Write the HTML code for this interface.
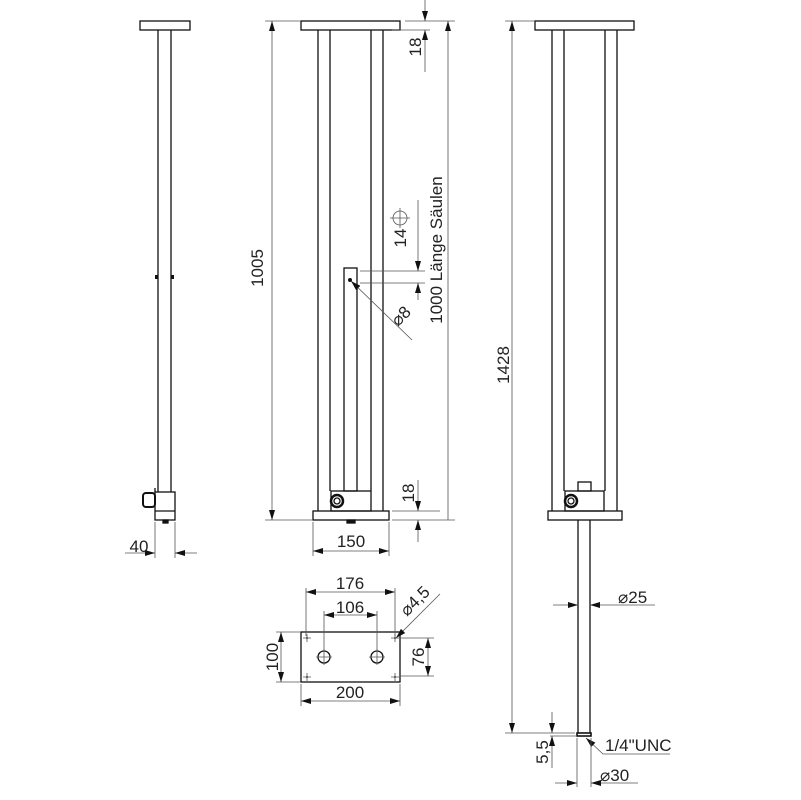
<!DOCTYPE html>
<html><head><meta charset="utf-8"><style>body{margin:0;background:#fff}svg{display:block}text{font-family:"Liberation Sans",sans-serif;font-size:17px;fill:#222}</style></head><body>
<svg width="801" height="800" viewBox="0 0 801 800" xmlns="http://www.w3.org/2000/svg">
<defs>
<marker id="a" viewBox="0 0 10 6" refX="10" refY="3" markerWidth="10" markerHeight="6" orient="auto-start-reverse" markerUnits="userSpaceOnUse"><path d="M0,0L10,3L0,6z" fill="#111"/></marker>
</defs>
<g fill="none" stroke="#111" stroke-width="1.3">
<rect x="140" y="21" width="50" height="9"/>
<line x1="158" y1="30" x2="158" y2="492"/><line x1="171" y1="30" x2="171" y2="492"/>
<rect x="155" y="492" width="20" height="28"/><line x1="155" y1="511" x2="175" y2="511"/>
<rect x="143" y="493" width="12" height="14" rx="3" stroke-width="2"/>
<line x1="155" y1="488" x2="155" y2="492"/>
<rect x="163" y="520" width="5" height="3" fill="#111"/>
<rect x="301" y="21" width="99" height="9"/>
<line x1="318" y1="30" x2="318" y2="511"/><line x1="330" y1="30" x2="330" y2="491"/>
<line x1="371" y1="30" x2="371" y2="491"/><line x1="383" y1="30" x2="383" y2="511"/>
<rect x="344" y="268" width="13" height="223"/>
<rect x="331" y="491" width="40" height="20"/>
<rect x="313" y="511" width="76" height="9"/>
<circle cx="337" cy="501" r="6" stroke-width="2.5"/><circle cx="337" cy="501" r="3"/>
<rect x="347" y="520" width="8" height="3" fill="#111"/>
<rect x="535" y="21" width="99" height="9"/>
<line x1="552" y1="30" x2="552" y2="511"/><line x1="564" y1="30" x2="564" y2="491"/>
<line x1="605" y1="30" x2="605" y2="491"/><line x1="617" y1="30" x2="617" y2="511"/>
<rect x="578" y="482" width="13" height="9"/>
<rect x="565" y="491" width="39" height="20"/>
<rect x="548" y="511" width="74" height="9"/>
<circle cx="571" cy="501" r="6" stroke-width="2.5"/><circle cx="571" cy="501" r="3"/>
<line x1="578" y1="520" x2="578" y2="733"/><line x1="590" y1="520" x2="590" y2="733"/>
<rect x="577" y="733" width="14" height="3" stroke-width="1.6"/>
<rect x="301" y="632" width="99" height="50"/>
<circle cx="324" cy="657" r="6"/><circle cx="377" cy="657" r="6"/>
</g>
<g fill="#111"><circle cx="350" cy="280" r="2"/><rect x="155" y="275" width="3" height="4"/><rect x="171" y="275" width="3" height="4"/>
<circle cx="307" cy="638" r="1"/><circle cx="395" cy="638" r="1"/><circle cx="307" cy="677" r="1"/><circle cx="395" cy="677" r="1"/></g>
<g fill="none" stroke="#555" stroke-width="0.8">
<path d="M316,657h16M324,649v16M369,657h16M377,649v16M303,638h8M307,634v8M391,638h8M395,634v8M303,677h8M307,673v8M391,677h8M395,673v8"/>
<line x1="265" y1="21" x2="301" y2="21"/><line x1="265" y1="520" x2="313" y2="520"/>
<line x1="272" y1="21" x2="272" y2="520" marker-start="url(#a)" marker-end="url(#a)"/>
<line x1="405" y1="21" x2="455" y2="21"/><line x1="392" y1="30" x2="430" y2="30"/>
<line x1="448" y1="21" x2="448" y2="520" marker-start="url(#a)"/>
<line x1="392" y1="520" x2="455" y2="520"/>
<line x1="425" y1="0" x2="425" y2="21" marker-end="url(#a)"/><line x1="425" y1="30" x2="425" y2="72" marker-start="url(#a)"/>
<line x1="392" y1="511" x2="440" y2="511"/>
<line x1="418" y1="480" x2="418" y2="511" marker-end="url(#a)"/><line x1="418" y1="520" x2="418" y2="542" marker-start="url(#a)"/>
<line x1="313" y1="522" x2="313" y2="556"/><line x1="389" y1="522" x2="389" y2="556"/>
<line x1="313" y1="551" x2="389" y2="551" marker-start="url(#a)" marker-end="url(#a)"/>
<line x1="155" y1="522" x2="155" y2="558"/><line x1="175" y1="522" x2="175" y2="558"/>
<line x1="125" y1="553" x2="155" y2="553" marker-end="url(#a)"/><line x1="175" y1="553" x2="197" y2="553" marker-start="url(#a)"/>
<line x1="360" y1="271" x2="425" y2="271"/><line x1="360" y1="283" x2="425" y2="283"/>
<line x1="418" y1="200" x2="418" y2="271" marker-end="url(#a)"/><line x1="418" y1="283" x2="418" y2="300" marker-start="url(#a)"/>
<circle cx="400" cy="218" r="7"/><path d="M390,218h20M400,208v20"/>
<line x1="412" y1="340" x2="351" y2="281" marker-end="url(#a)"/>
<line x1="505" y1="21" x2="535" y2="21"/><line x1="505" y1="733" x2="575" y2="733"/>
<line x1="512" y1="21" x2="512" y2="733" marker-start="url(#a)" marker-end="url(#a)"/>
<line x1="553" y1="605" x2="578" y2="605" marker-end="url(#a)"/><line x1="590" y1="605" x2="655" y2="605" marker-start="url(#a)"/>
<line x1="550" y1="736" x2="577" y2="736"/>
<line x1="552" y1="712" x2="552" y2="733" marker-end="url(#a)"/><line x1="552" y1="736" x2="552" y2="768" marker-start="url(#a)"/>
<polyline points="670,754 603,754 586,738" marker-end="url(#a)"/>
<line x1="577" y1="738" x2="577" y2="787"/><line x1="591" y1="738" x2="591" y2="787"/>
<line x1="555" y1="783" x2="577" y2="783" marker-end="url(#a)"/><line x1="591" y1="783" x2="638" y2="783" marker-start="url(#a)"/>
<line x1="306" y1="588" x2="306" y2="636"/><line x1="395" y1="588" x2="395" y2="636"/>
<line x1="306" y1="592" x2="395" y2="592" marker-start="url(#a)" marker-end="url(#a)"/>
<line x1="324" y1="611" x2="324" y2="650"/><line x1="377" y1="611" x2="377" y2="650"/>
<line x1="324" y1="615" x2="377" y2="615" marker-start="url(#a)" marker-end="url(#a)"/>
<line x1="276" y1="632" x2="301" y2="632"/><line x1="276" y1="682" x2="301" y2="682"/>
<line x1="281" y1="632" x2="281" y2="682" marker-start="url(#a)" marker-end="url(#a)"/>
<line x1="400" y1="638" x2="434" y2="638"/><line x1="400" y1="676" x2="434" y2="676"/>
<line x1="428" y1="638" x2="428" y2="676" marker-start="url(#a)" marker-end="url(#a)"/>
<line x1="301" y1="684" x2="301" y2="706"/><line x1="400" y1="684" x2="400" y2="706"/>
<line x1="301" y1="701" x2="400" y2="701" marker-start="url(#a)" marker-end="url(#a)"/>
<line x1="440" y1="594" x2="396" y2="638" marker-end="url(#a)"/>
</g>
<text x="263" y="268" text-anchor="middle" transform="rotate(-90 263 268)">1005</text>
<text x="442" y="250" text-anchor="middle" transform="rotate(-90 442 250)">1000 Länge Säulen</text>
<text x="421" y="47" text-anchor="middle" transform="rotate(-90 421 47)">18</text>
<text x="414" y="493" text-anchor="middle" transform="rotate(-90 414 493)">18</text>
<text x="406" y="238" text-anchor="middle" transform="rotate(-90 406 238)">14</text>
<text x="405" y="320" text-anchor="middle" transform="rotate(-45 405 320)">⌀8</text>
<text x="509" y="365" text-anchor="middle" transform="rotate(-90 509 365)">1428</text>
<text x="351" y="547" text-anchor="middle">150</text>
<text x="139" y="552" text-anchor="middle">40</text>
<text x="350" y="589" text-anchor="middle">176</text>
<text x="350" y="613" text-anchor="middle">106</text>
<text x="278" y="657" text-anchor="middle" transform="rotate(-90 278 657)">100</text>
<text x="424" y="657" text-anchor="middle" transform="rotate(-90 424 657)">76</text>
<text x="350" y="698" text-anchor="middle">200</text>
<text x="419" y="605" text-anchor="middle" transform="rotate(-45 419 605)">⌀4,5</text>
<text x="618" y="603">⌀25</text>
<text x="605" y="751">1/4"UNC</text>
<text x="548" y="752" text-anchor="middle" transform="rotate(-90 548 752)">5,5</text>
<text x="600" y="781">⌀30</text>
</svg>
</body></html>
